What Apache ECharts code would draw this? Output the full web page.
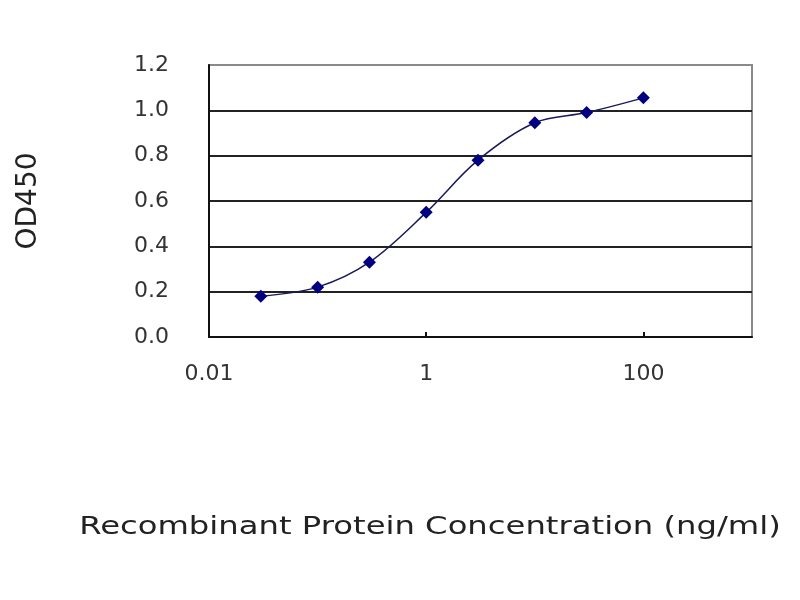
<!DOCTYPE html>
<html>
<head>
<meta charset="utf-8">
<script src="https://cdn.jsdelivr.net/npm/echarts@6/dist/echarts.min.js"></script>
<style>html,body{margin:0;padding:0;background:#fff;}#c{width:800px;height:600px;}</style>
</head>
<body>
<div id="c"></div>
<script>
const concentrations = [0.03, 0.1, 0.3, 1, 3, 10, 30, 100];
const od450 = [0.18, 0.22, 0.33, 0.55, 0.78, 0.945, 0.99, 1.055];
const yTicks = [0, 0.2, 0.4, 0.6, 0.8, 1.0, 1.2];
const xTickLabels = ['0.01', '1', '100'];
const xTitle = 'Recombinant Protein Concentration (ng/ml)';
const yTitle = 'OD450';

const pts = concentrations.map((c, i) => [c, od450[i]]);
const chart = echarts.init(document.getElementById('c'), null, {renderer: 'canvas'});
const font = 'DejaVu Sans';
chart.setOption({
  backgroundColor: '#fff',
  animation: false,
  grid: {left: 209, right: 48, top: 65, bottom: 263, show: true, borderColor: '#8a8a8a', borderWidth: 2, backgroundColor: 'transparent'},
  xAxis: {
    type: 'log', logBase: 100, min: 0.01, max: 1000,
    axisLine: {show: true, lineStyle: {color: '#111', width: 2}},
    axisTick: {show: true, inside: true, length: 5, lineStyle: {color: '#111', width: 2}},
    splitLine: {show: false},
    axisLabel: {
      margin: 26, fontSize: 22, fontFamily: font, color: '#333', showMaxLabel: false,
      formatter: v => {
        const s = String(Number(v.toPrecision(6)));
        return xTickLabels.includes(s) ? s : '';
      }
    }
  },
  yAxis: {
    type: 'value', min: yTicks[0], max: yTicks[yTicks.length - 1], interval: 0.2,
    name: yTitle, nameLocation: 'middle', nameGap: 166, nameRotate: 90,
    nameTextStyle: {fontSize: 28, fontFamily: font, color: '#222'},
    axisLine: {show: true, lineStyle: {color: '#111', width: 2}},
    axisTick: {show: false},
    splitLine: {show: true, lineStyle: {color: ['#222', '#222', '#222', '#222', '#222', '#222', '#8a8a8a'], width: 2}},
    axisLabel: {margin: 40, fontSize: 22, fontFamily: font, color: '#333', formatter: v => v.toFixed(1)}
  },
  graphic: [{
    type: 'text', x: 430, y: 527, scaleX: 1.29,
    style: {text: xTitle, font: '25px "DejaVu Sans"', fill: '#222', textAlign: 'center', textVerticalAlign: 'middle'}
  }],
  series: [{
    type: 'line', data: pts, smooth: 0.35,
    symbol: 'diamond', symbolSize: 13,
    lineStyle: {color: '#1a1a5a', width: 1.5},
    itemStyle: {color: '#000080'}
  }]
});
</script>
</body>
</html>
